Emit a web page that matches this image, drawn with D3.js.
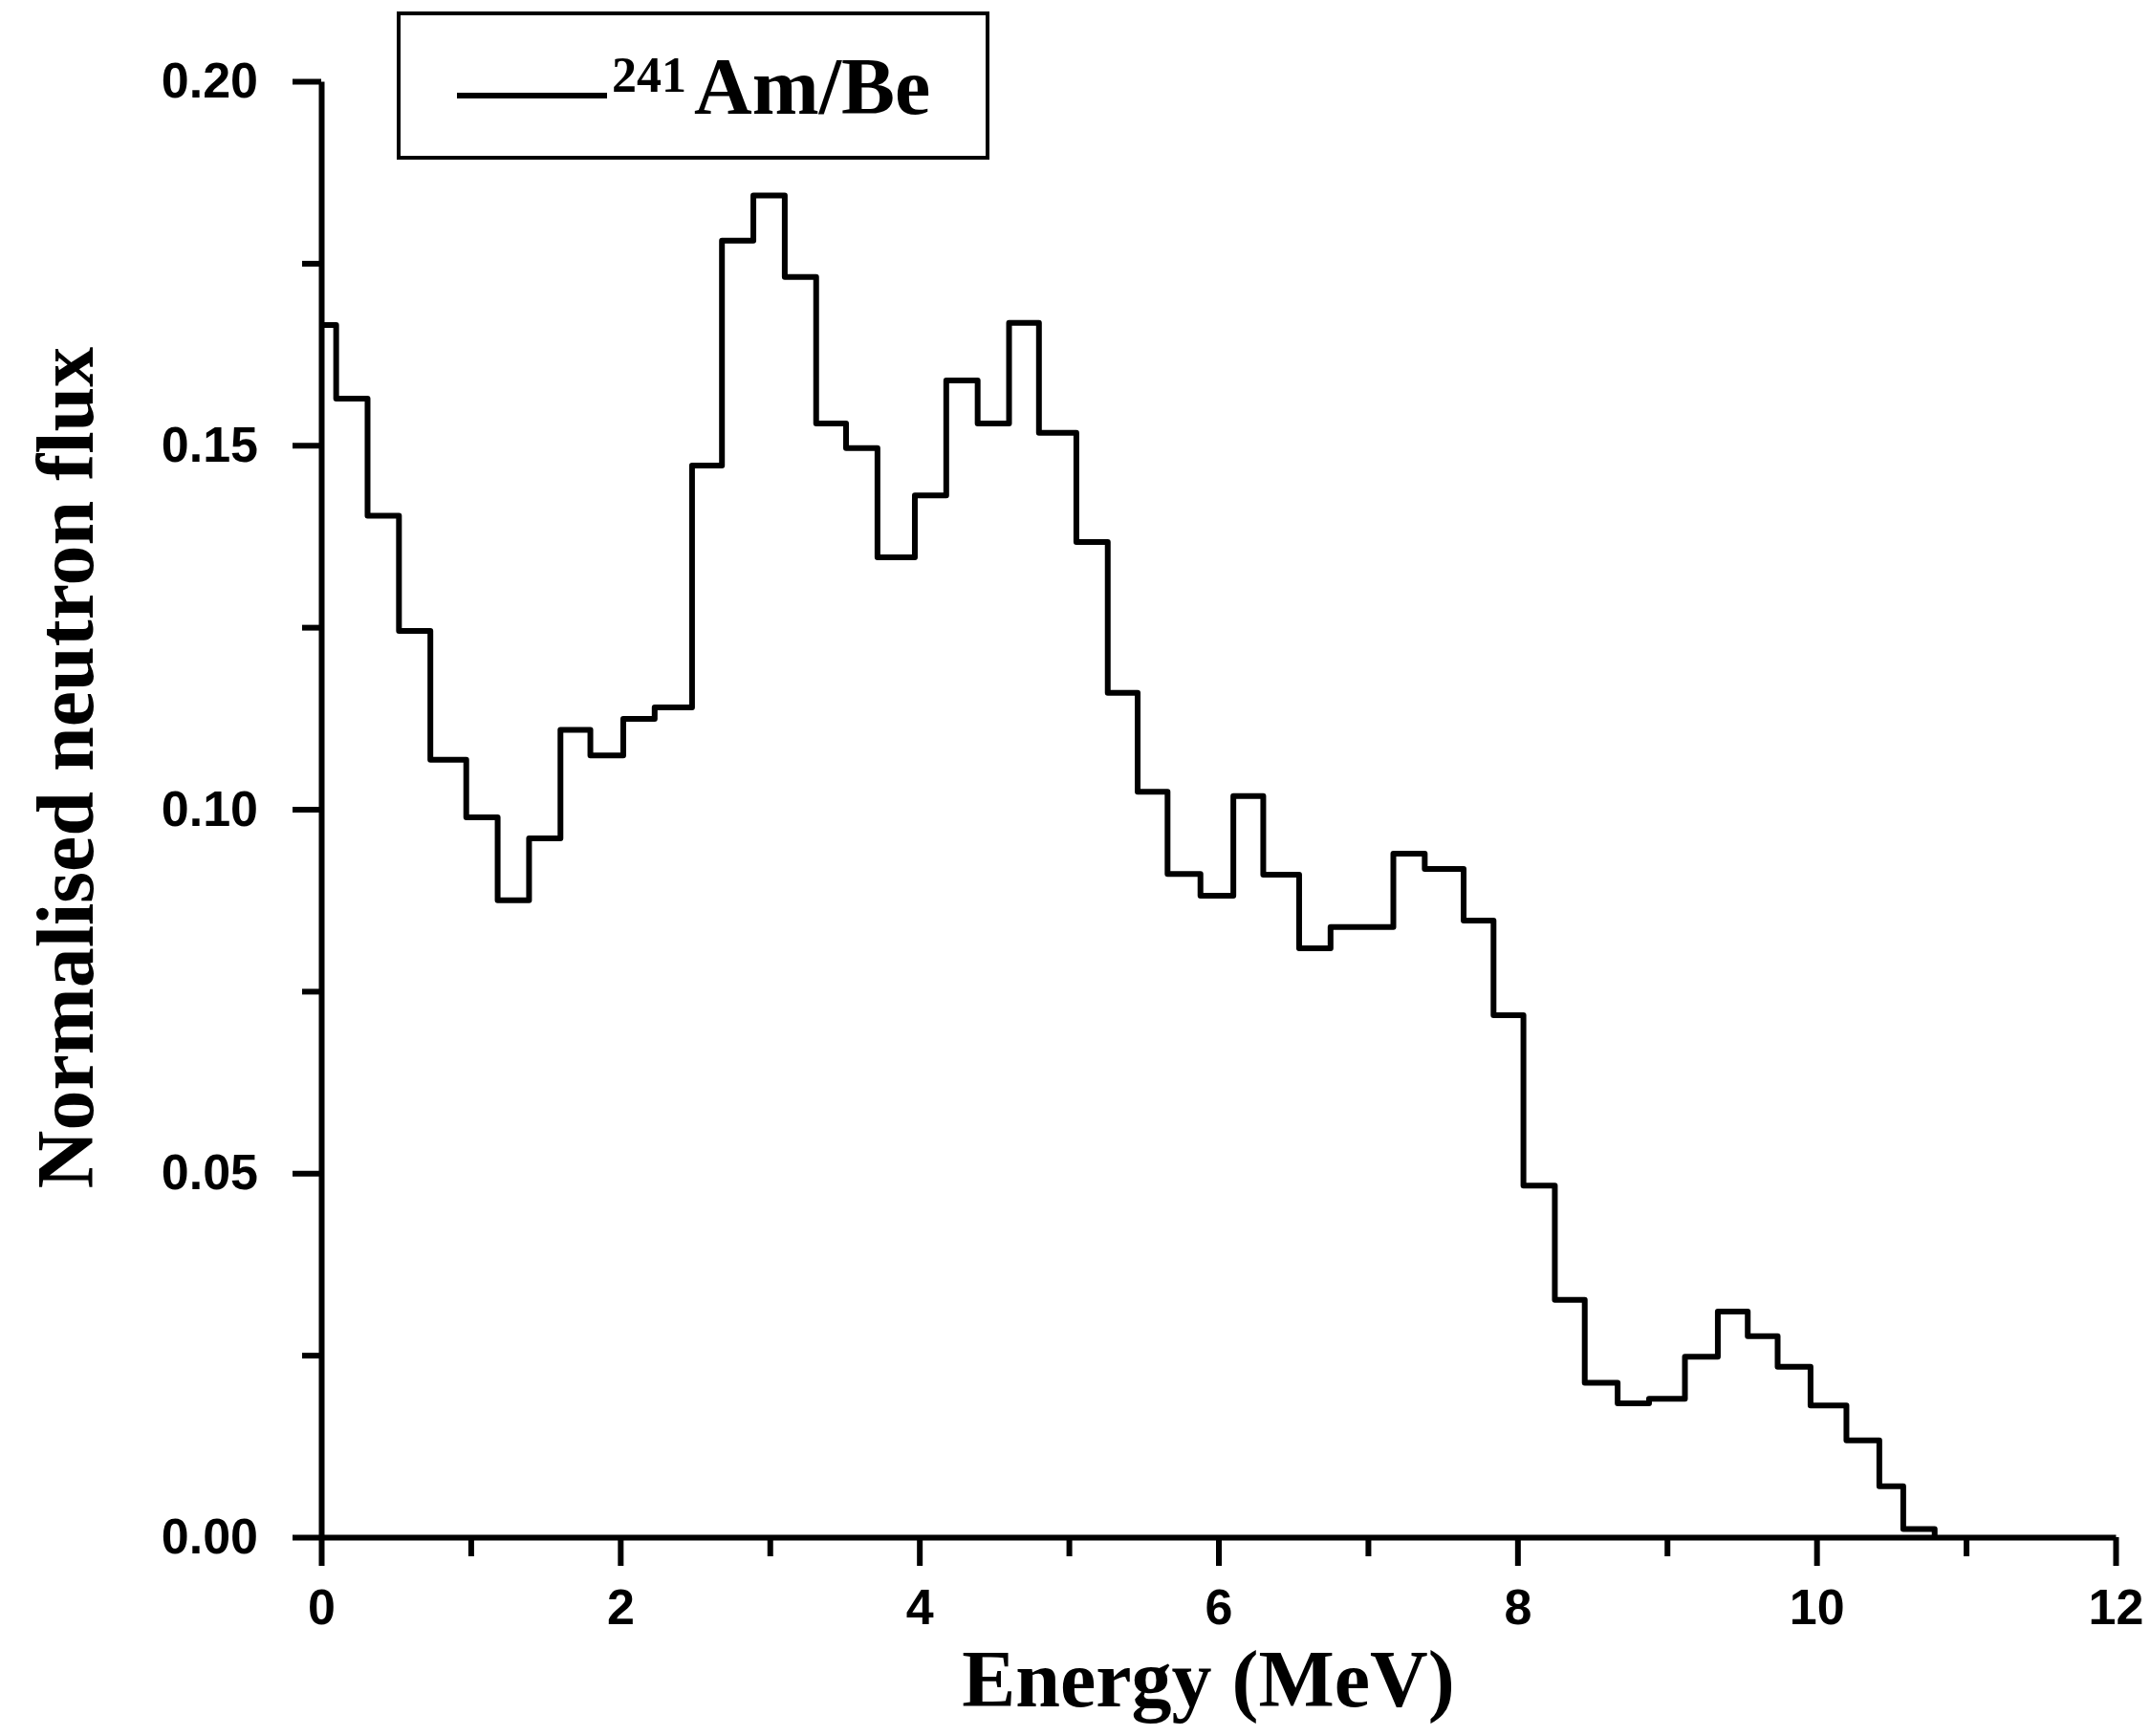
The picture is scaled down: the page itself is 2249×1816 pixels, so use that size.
<!DOCTYPE html>
<html lang="en">
  <head>
    <meta charset="UTF-8" />
    <title>241Am/Be neutron spectrum</title>
    <script src="https://d3js.org/d3.v7.min.js"></script>
    <style>
      body {
        margin: 0;
        background: #fff;
      }
      .axis path,
      .axis line {
        fill: none;
        stroke: #000;
        stroke-width: 6px;
      }
      .axis text {
        font-family: "Liberation Sans", Arial, sans-serif;
        font-weight: bold;
        font-size: 52px;
        fill: #000;
      }
      .title {
        font-family: "Liberation Serif", "Times New Roman", serif;
        font-weight: bold;
        font-size: 84px;
        fill: #000;
      }
    </style>
  </head>
  <body>
    <svg width="2249" height="1816"></svg>

    <script>
      // bin edges (MeV) and normalised flux per bin
      const binEdges = [
        0, 0.1, 0.31, 0.52, 0.73, 0.97, 1.18, 1.39, 1.6, 1.8,
        2.02, 2.23, 2.48, 2.68, 2.89, 3.1, 3.31, 3.51, 3.72, 3.97,
        4.18, 4.39, 4.6, 4.8, 5.05, 5.26, 5.46, 5.66, 5.88, 6.1,
        6.3, 6.54, 6.75, 6.96, 7.17, 7.38, 7.64, 7.84, 8.04, 8.25,
        8.45, 8.67, 8.88, 9.12, 9.34, 9.54, 9.74, 9.96, 10.2, 10.42,
        10.58, 10.79,
      ];
      const flux = [
        0.1665, 0.1564, 0.1403, 0.1245, 0.1068, 0.0989, 0.0875, 0.096, 0.1109, 0.1074,
        0.1124, 0.114, 0.1472, 0.1781, 0.1843, 0.1731, 0.153, 0.1496, 0.1346, 0.1431,
        0.1589, 0.153, 0.1668, 0.1517, 0.1367, 0.116, 0.1024, 0.0911, 0.0881, 0.1018,
        0.091, 0.0809, 0.0838, 0.0838, 0.0939, 0.0918, 0.0847, 0.0717, 0.0483, 0.0326,
        0.0212, 0.0184, 0.019, 0.0248, 0.031, 0.0276, 0.0234, 0.0181, 0.0133, 0.007,
        0.0011,
      ];
      const xMajor = [0, 2, 4, 6, 8, 10, 12];
      const xMinor = [1, 3, 5, 7, 9, 11];
      const yMajor = [0, 0.05, 0.1, 0.15, 0.2];
      const yMinor = [0.025, 0.075, 0.125, 0.175];

      const svg = d3.select("svg");

      const x = d3.scaleLinear().domain([0, 12]).range([336, 2213]);
      const y = d3.scaleLinear().domain([0, 0.2]).range([1608, 85]);

      // minor ticks first, majors with labels on top
      svg.append("g")
        .attr("class", "axis")
        .attr("transform", `translate(0,${y(0)})`)
        .call(d3.axisBottom(x).tickValues(xMinor).tickSize(20).tickFormat(""))
        .call((g) => g.select(".domain").remove());

      svg.append("g")
        .attr("class", "axis")
        .attr("transform", `translate(${x(0)},0)`)
        .call(d3.axisLeft(y).tickValues(yMinor).tickSize(20).tickFormat(""))
        .call((g) => g.select(".domain").remove());

      svg.append("g")
        .attr("class", "axis")
        .attr("transform", `translate(0,${y(0)})`)
        .call(
          d3.axisBottom(x).tickValues(xMajor).tickSize(30).tickSizeOuter(0)
            .tickPadding(24).tickFormat(d3.format("d"))
        );

      svg.append("g")
        .attr("class", "axis")
        .attr("transform", `translate(${x(0)},0)`)
        .call(
          d3.axisLeft(y).tickValues(yMajor).tickSize(30).tickSizeOuter(0)
            .tickPadding(36).tickFormat(d3.format(".2f"))
        );

      // step histogram
      const pts = flux.map((v, i) => ({e: binEdges[i], v: v}));
      pts.push({e: binEdges[binEdges.length - 1], v: 0});

      const step = d3.line()
        .x((d) => x(d.e))
        .y((d) => y(d.v))
        .curve(d3.curveStepAfter);

      svg.append("path")
        .datum(pts)
        .attr("fill", "none")
        .attr("stroke", "#000")
        .attr("stroke-width", 6)
        .attr("stroke-linejoin", "round")
        .attr("d", step);

      // axis titles
      svg.append("text")
        .attr("class", "title")
        .attr("x", 1264)
        .attr("y", 1785)
        .attr("text-anchor", "middle")
        .text("Energy (MeV)");

      svg.append("text")
        .attr("class", "title")
        .attr("transform", "translate(97,803) rotate(-90)")
        .attr("text-anchor", "middle")
        .text("Normalised neutron flux");

      // legend
      const legend = svg.append("g");
      legend.append("rect")
        .attr("x", 417).attr("y", 14)
        .attr("width", 616).attr("height", 151)
        .attr("fill", "#fff")
        .attr("stroke", "#000")
        .attr("stroke-width", 4);
      legend.append("line")
        .attr("x1", 478).attr("x2", 635)
        .attr("y1", 100).attr("y2", 100)
        .attr("stroke", "#000")
        .attr("stroke-width", 6);
      const lt = legend.append("text")
        .attr("class", "title")
        .attr("x", 640)
        .attr("y", 119);
      lt.append("tspan").attr("font-size", 52).attr("dy", -23).text("241");
      lt.append("tspan").attr("dx", 8).attr("dy", 23).text("Am/Be");
    </script>
  </body>
</html>
